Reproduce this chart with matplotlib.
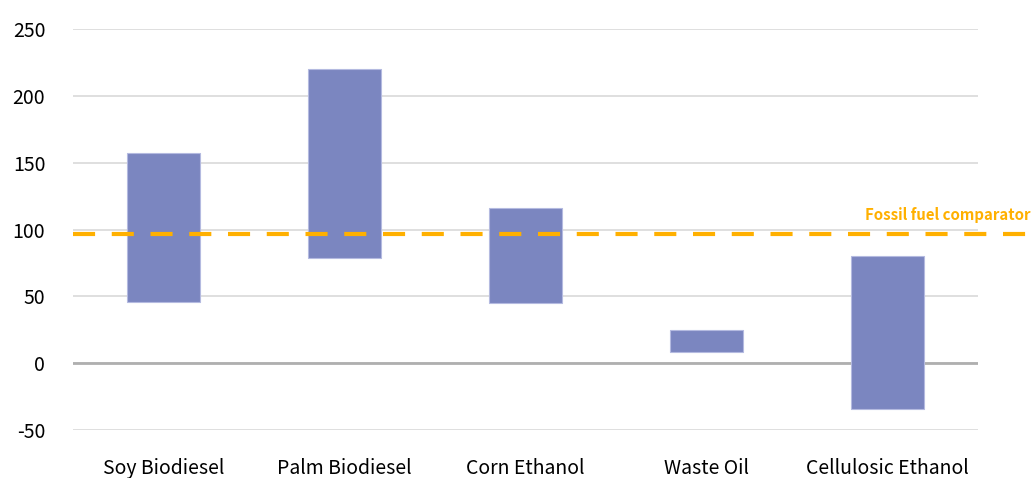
import matplotlib
matplotlib.use("Agg")
import matplotlib.pyplot as plt

categories = ["Soy Biodiesel", "Palm Biodiesel", "Corn Ethanol", "Waste Oil", "Cellulosic Ethanol"]
low_values = [46, 79, 45, 8, -34]
high_values = [157, 220, 116, 25, 80]
fossil_comparator = 97
y_ticks = [-50, 0, 50, 100, 150, 200, 250]

plt.rcParams['font.family'] = ['Noto Sans CJK KR', 'DejaVu Sans']

fig = plt.figure(figsize=(10.36, 4.78), dpi=100)
ax = fig.add_axes([0.0705, 0.1004, 0.8735, 0.8389])

x = list(range(len(categories)))
heights = [h - l for l, h in zip(low_values, high_values)]
ax.bar(x, heights, bottom=low_values, width=0.4, color="#7B86C0",
       edgecolor="#B4BAE0", linewidth=0.8, zorder=3)

ax.set_xlim(-0.5, len(categories) - 0.5)
ax.set_ylim(-50, 250)
ax.set_yticks(y_ticks)
ax.set_yticklabels([str(v) for v in y_ticks])
ax.set_xticks(x)
ax.set_xticklabels(categories)
ax.tick_params(axis="both", length=0, labelsize=14, colors="#000000")
ax.tick_params(axis="x", pad=20)
ax.tick_params(axis="y", pad=20)
for lbl in ax.get_yticklabels():
    lbl.set_horizontalalignment("right")

for s in ax.spines.values():
    s.set_visible(False)
ax.grid(axis="y", color="#D9D9D9", linewidth=1.2, zorder=0)
ax.axhline(0, color="#AFAFAF", linewidth=2, zorder=2)

# fossil fuel reference line, running past the plot edge
ax.plot([-0.5, len(categories) - 0.5 + 0.29], [fossil_comparator, fossil_comparator],
        color="#FFB000", linewidth=3, linestyle=(0, (5.3, 4)), clip_on=False, zorder=4)
ax.text(len(categories) - 0.5 + 0.29, fossil_comparator + 8, "Fossil fuel comparator",
        color="#FFB000", fontsize=10.8, fontweight="bold", ha="right", va="bottom")

fig.savefig("out.png", dpi=100)
